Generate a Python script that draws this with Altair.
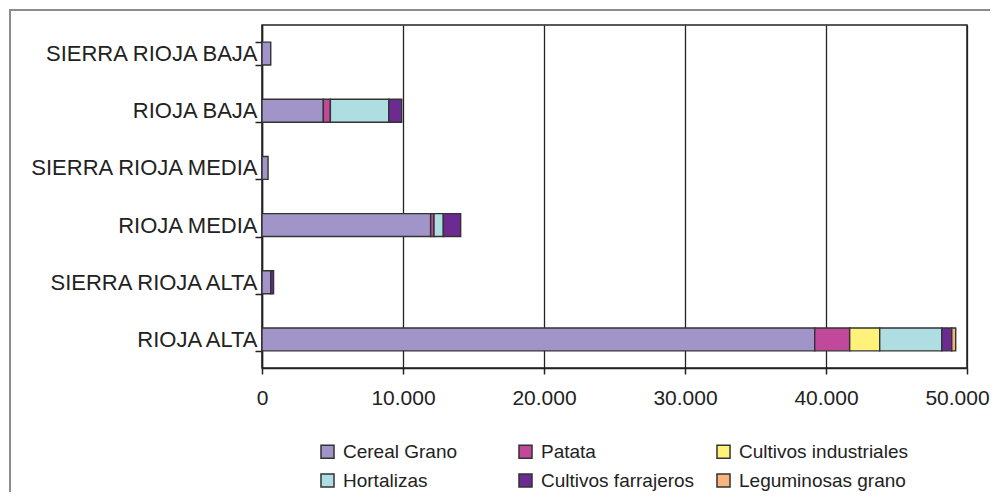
import altair as alt
import pandas as pd

zones = ["SIERRA RIOJA BAJA", "RIOJA BAJA", "SIERRA RIOJA MEDIA",
         "RIOJA MEDIA", "SIERRA RIOJA ALTA", "RIOJA ALTA"]
crops = ["Cereal Grano", "Patata", "Cultivos industriales",
         "Hortalizas", "Cultivos farrajeros", "Leguminosas grano"]
colors = ["#a094c8", "#c2489b", "#fff27a", "#aedde2", "#6b2b91", "#f7b47f"]

# hectares per zone (same order as zones)
cereal_grano = [620, 4350, 430, 11960, 620, 39200]
patata = [0, 500, 0, 240, 0, 2480]
cultivos_industriales = [0, 0, 0, 0, 0, 2130]
hortalizas = [0, 4140, 0, 660, 0, 4400]
cultivos_farrajeros = [0, 920, 0, 1230, 200, 710]
leguminosas_grano = [0, 0, 0, 0, 0, 280]

x_ticks = [0, 10000, 20000, 30000, 40000, 50000]

series = [cereal_grano, patata, cultivos_industriales, hortalizas,
          cultivos_farrajeros, leguminosas_grano]
rows = []
for ci, (crop, vals) in enumerate(zip(crops, series)):
    for zone, v in zip(zones, vals):
        if v > 0:
            rows.append({"zona": zone, "cultivo": crop, "ha": v, "idx": ci})
df = pd.DataFrame(rows)

# legend is laid out column by column (3 columns x 2 rows)
legend_order = [0, 3, 1, 4, 2, 5]
legend_domain = [crops[i] for i in legend_order]
legend_range = [colors[i] for i in legend_order]

FONT = "Liberation Sans"
INK = "#222222"

frame = alt.Chart(alt.Data(values=[{"a": 1}])).mark_rect(
    fill="transparent", stroke="#8c8c8c", strokeWidth=2
).encode(
    x=alt.value(-252), x2=alt.value(760),
    y=alt.value(-15), y2=alt.value(500)
)

bars = alt.Chart(df).mark_bar(stroke="#333333", strokeWidth=1.4).encode(
    y=alt.Y("zona:N", sort=zones,
            scale=alt.Scale(paddingInner=0.6, paddingOuter=0.3),
            axis=alt.Axis(title=None, tickBand="extent", tickSize=7,
                          tickColor=INK, tickWidth=1.5, domainColor=INK,
                          domainWidth=1.5, labelFont=FONT, labelFontSize=22,
                          labelColor=INK, labelPadding=-2, labelLimit=400)),
    x=alt.X("ha:Q", stack="zero",
            scale=alt.Scale(domain=[0, 50000], nice=False),
            axis=alt.Axis(title=None, values=x_ticks, grid=True,
                          gridColor=INK, gridWidth=1.3, tickSize=6,
                          tickColor=INK, tickWidth=1.5, domainColor=INK,
                          domainWidth=1.5, labelFont=FONT, labelFontSize=21,
                          labelColor=INK, labelPadding=13, labelFlush=False,
                          labelOffset={"condition": {"test": "datum.value == 50000",
                                                     "value": -10},
                                       "value": 0},
                          labelExpr="replace(format(datum.value, ','), ',', '.')")),
    color=alt.Color("cultivo:N",
                    scale=alt.Scale(domain=legend_domain, range=legend_range),
                    legend=alt.Legend(title=None, orient="none", legendX=56,
                                      legendY=417, columns=3, gridAlign="all",
                                      columnPadding=3, rowPadding=8,
                                      symbolType="square", symbolSize=170,
                                      symbolStrokeColor="#333333",
                                      symbolStrokeWidth=1.5, labelFont=FONT,
                                      labelFontSize=19, labelColor=INK,
                                      labelOffset=6, padding=0,
                                      labelLimit=400)),
    order=alt.Order("idx:Q")
)

chart = alt.layer(frame, bars).properties(
    width=705, height=343,
    padding={"left": 254, "top": 17, "right": 23, "bottom": 124},
    autosize=alt.AutoSizeParams(type="none"),
    background="white"
).configure_view(stroke=INK, strokeWidth=1.5)

chart.save("out.html", embed_options={"renderer": "svg", "actions": False})
